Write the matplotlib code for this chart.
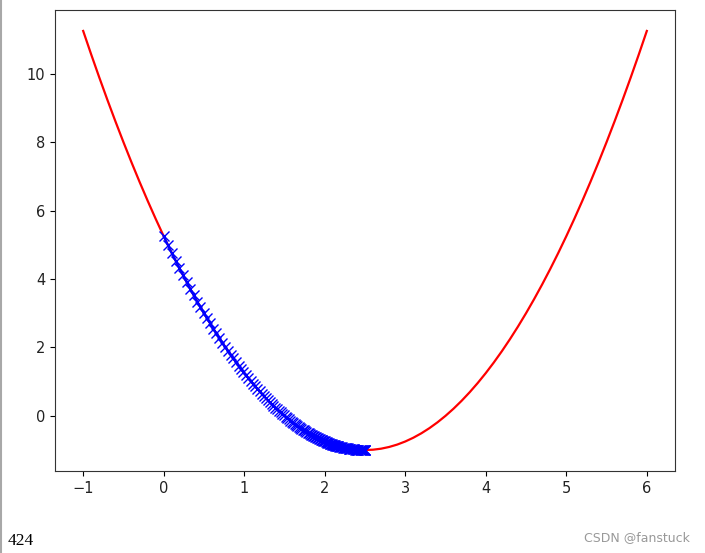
import matplotlib
matplotlib.use("Agg")
import matplotlib.pyplot as plt
from matplotlib.lines import Line2D

# red curve (x, J)
plot_x = [-1.0, -0.9, -0.8, -0.7, -0.6, -0.5, -0.4, -0.3, -0.2, -0.1,
          0.0, 0.1, 0.2, 0.3, 0.4, 0.5, 0.6, 0.7, 0.8, 0.9,
          1.0, 1.1, 1.2, 1.3, 1.4, 1.5, 1.6, 1.7, 1.8, 1.9,
          2.0, 2.1, 2.2, 2.3, 2.4, 2.5, 2.6, 2.7, 2.8, 2.9,
          3.0, 3.1, 3.2, 3.3, 3.4, 3.5, 3.6, 3.7, 3.8, 3.9,
          4.0, 4.1, 4.2, 4.3, 4.4, 4.5, 4.6, 4.7, 4.8, 4.9,
          5.0, 5.1, 5.2, 5.3, 5.4, 5.5, 5.6, 5.7, 5.8, 5.9, 6.0]
plot_y = [11.25, 10.56, 9.89, 9.24, 8.61, 8.00, 7.41, 6.84, 6.29, 5.76,
          5.25, 4.76, 4.29, 3.84, 3.41, 3.00, 2.61, 2.24, 1.89, 1.56,
          1.25, 0.96, 0.69, 0.44, 0.21, 0.00, -0.19, -0.36, -0.51, -0.64,
          -0.75, -0.84, -0.91, -0.96, -0.99, -1.00, -0.99, -0.96, -0.91, -0.84,
          -0.75, -0.64, -0.51, -0.36, -0.19, 0.00, 0.21, 0.44, 0.69, 0.96,
          1.25, 1.56, 1.89, 2.24, 2.61, 3.00, 3.41, 3.84, 4.29, 4.76,
          5.25, 5.76, 6.29, 6.84, 7.41, 8.00, 8.61, 9.24, 9.89, 10.56, 11.25]

# blue descent points
theta_history = [0.000, 0.050, 0.099, 0.147, 0.194, 0.240, 0.285, 0.330, 0.373, 0.416,
                 0.457, 0.498, 0.538, 0.577, 0.616, 0.654, 0.690, 0.727, 0.762, 0.797,
                 0.831, 0.864, 0.897, 0.929, 0.961, 0.991, 1.022, 1.051, 1.080, 1.108,
                 1.136, 1.164, 1.190, 1.217, 1.242, 1.267, 1.292, 1.316, 1.340, 1.363,
                 1.386, 1.408, 1.430, 1.451, 1.472, 1.493, 1.513, 1.533, 1.552, 1.571,
                 1.590, 1.608, 1.626, 1.643, 1.660, 1.677, 1.693, 1.710, 1.725, 1.741,
                 1.756, 1.771, 1.786, 1.800, 1.814, 1.828, 1.841, 1.854, 1.867, 1.880,
                 1.892, 1.904, 1.916, 1.928, 1.939, 1.951, 1.962, 1.972, 1.983, 1.993,
                 2.003, 2.013, 2.023, 2.033, 2.042, 2.051, 2.060, 2.069, 2.077, 2.086,
                 2.094, 2.102, 2.110, 2.118, 2.126, 2.133, 2.141, 2.148, 2.155, 2.162,
                 2.168, 2.182, 2.194, 2.206, 2.218, 2.229, 2.240, 2.250, 2.260, 2.270,
                 2.279, 2.287, 2.296, 2.304, 2.312, 2.319, 2.333, 2.346, 2.358, 2.369,
                 2.379, 2.389, 2.397, 2.405, 2.413, 2.419, 2.434, 2.446, 2.456, 2.464,
                 2.471, 2.480, 2.487, 2.494, 2.498, 2.4995]
J_history = [5.25, 5.00, 4.76, 4.54, 4.32, 4.11, 3.91, 3.71, 3.52, 3.34,
             3.17, 3.01, 2.85, 2.70, 2.55, 2.41, 2.28, 2.14, 2.02, 1.90,
             1.79, 1.68, 1.57, 1.47, 1.37, 1.28, 1.18, 1.10, 1.02, 0.94,
             0.86, 0.79, 0.72, 0.65, 0.58, 0.52, 0.46, 0.40, 0.35, 0.29,
             0.24, 0.19, 0.14, 0.10, 0.06, 0.01, -0.03, -0.06, -0.10, -0.14,
             -0.17, -0.20, -0.24, -0.27, -0.29, -0.32, -0.35, -0.38, -0.40, -0.42,
             -0.45, -0.47, -0.49, -0.51, -0.53, -0.55, -0.57, -0.58, -0.60, -0.62,
             -0.63, -0.65, -0.66, -0.67, -0.69, -0.70, -0.71, -0.72, -0.73, -0.74,
             -0.75, -0.76, -0.77, -0.78, -0.79, -0.80, -0.81, -0.81, -0.82, -0.83,
             -0.84, -0.84, -0.85, -0.85, -0.86, -0.87, -0.87, -0.88, -0.88, -0.89,
             -0.89, -0.90, -0.91, -0.91, -0.92, -0.93, -0.93, -0.94, -0.94, -0.95,
             -0.95, -0.95, -0.96, -0.96, -0.96, -0.97, -0.97, -0.98, -0.98, -0.98,
             -0.99, -0.99, -0.99, -0.99, -0.99, -0.99, -1.00, -1.00, -1.00, -1.00,
             -1.00, -1.00, -1.00, -1.00, -1.00, -1.00]
n_steps = "424"

fig = plt.figure(figsize=(7.05, 5.53), dpi=100)
ax = fig.add_axes([55/705, 1-471/553, 620/705, 461/553])
ax.plot(plot_x, plot_y, color='r', lw=1.6)
ax.plot(theta_history, J_history, color='b', marker='x', markersize=7, lw=1.6)
ax.tick_params(labelsize=10.5, labelcolor='#222222')
for s in ax.spines.values():
    s.set_color('#333333')

fig.add_artist(Line2D([0.001, 0.001], [0, 1], color='#a8a8a8', lw=1.5))
fig.text(8/705, 1-541/553, n_steps, family=['Liberation Serif', 'DejaVu Serif'], fontsize=12.5, va='center')
fig.text(690/705, 1-538/553, "CSDN @fanstuck", color='#999999', fontsize=9, ha='right', va='center')

fig.savefig("out.png", dpi=100)
